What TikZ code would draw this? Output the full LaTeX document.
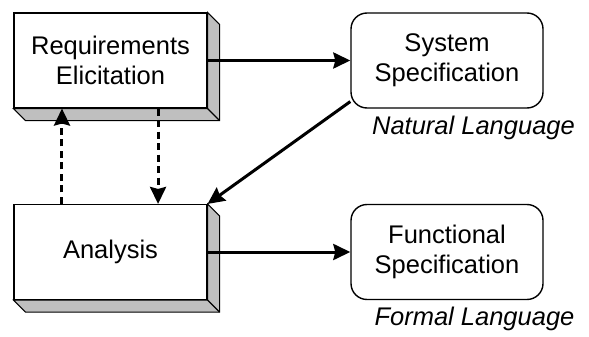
\documentclass[tikz,border=0pt]{standalone}
\usepackage{fontspec}
\setmainfont{Liberation Sans}
\usetikzlibrary{arrows.meta,calc}
\begin{document}
\begin{tikzpicture}[x=1pt,y=-1pt,
  txt/.style={font=\fontsize{25.5}{30}\selectfont, align=center},
  blockbox/.style={txt, draw, line width=1.1pt, fill=white, minimum width=193pt, minimum height=95pt, inner sep=0pt},
  specbox/.style={txt, draw, line width=1.4pt, rounded corners=16pt, minimum width=192pt, minimum height=95pt, inner sep=0pt},
  shade/.style={fill=black!25, draw, line width=1.1pt, line join=miter},
  flow/.style={line width=3pt, -{Stealth[length=17pt,width=16pt,inset=2pt]}},
  feedback/.style={flow, dash pattern=on 7pt off 4.5pt},
  lang/.style={font=\fontsize{25.5}{30}\selectfont\itshape}
]
\useasboundingbox (0,0) rectangle (589,337);

% front faces of the process blocks
\node[blockbox] (req) at (110.5,60.5) {Requirements\\Elicitation};
\node[blockbox] (ana) at (110.5,252) {Analysis};

% bevelled depth on the right and bottom of each block
\foreach \b in {req,ana}{
  \draw[shade] (\b.north east) -- ([shift={(12,12)}]\b.north east)
    -- ([shift={(12,12)}]\b.south east) -- ([shift={(12,12)}]\b.south west)
    -- (\b.south west) -- (\b.south east) -- cycle;
  \draw[line width=1.1pt] (\b.south east) -- ([shift={(12,12)}]\b.south east);
}

% specification documents
\node[specbox] (sys) at (447,60.5) {System\\Specification};
\node[specbox] (fun) at (447,252) {Functional\\Specification};

\node[lang] (nl) at (473.5,128) {Natural Language};
\node[lang] (fl) at (474.5,319) {Formal Language};

% main flow
\draw[flow] (req.east) -- (sys.west);
\draw[flow] (ana.east) -- (fun.west);
\draw[flow] (sys.203) -- (ana.north east);

% iteration between elicitation and analysis
\draw[feedback] ($(ana.north west)!0.25!(ana.north east)$) -- ($(req.south west)!0.25!(req.south east)$);
\draw[feedback] ($(req.south west)!0.745!(req.south east)$) -- ($(ana.north west)!0.745!(ana.north east)$);
\end{tikzpicture}
\end{document}
